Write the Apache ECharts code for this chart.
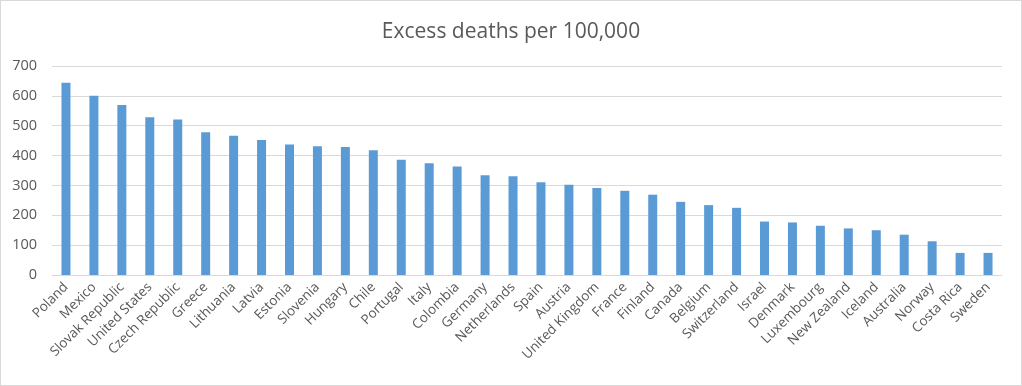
<!DOCTYPE html>
<html>
<head>
<meta charset="utf-8">
<script src="https://cdn.jsdelivr.net/npm/echarts@6/dist/echarts.min.js"></script>
<style>
html,body{margin:0;padding:0;background:#fff;}
#frame{width:1022px;height:386px;box-sizing:border-box;border:1px solid #d9d9d9;}
#chart{width:1020px;height:384px;}
</style>
</head>
<body>
<div id="frame"><div id="chart"></div></div>
<script>
const categories = ["Poland","Mexico","Slovak Republic","United States","Czech Republic","Greece","Lithuania","Latvia","Estonia","Slovenia","Hungary","Chile","Portugal","Italy","Colombia","Germany","Netherlands","Spain","Austria","United Kingdom","France","Finland","Canada","Belgium","Switzerland","Israel","Denmark","Luxembourg","New Zealand","Iceland","Australia","Norway","Costa Rica","Sweden"];
const excessDeaths = [644,600,569,528,521,478,466,452,437,431,429,418,386,374,363,334,331,311,302,291,282,269,245,234,225,179,176,165,156,150,135,113,74,74];
const yTicks = [0,100,200,300,400,500,600,700];

const chart = echarts.init(document.getElementById('chart'));
chart.setOption({
  animation:false,
  title:{text:'Excess deaths per 100,000',left:'center',top:16,
    textStyle:{fontFamily:'Open Sans',fontSize:21,fontWeight:'normal',color:'#595959'}},
  grid:{left:51,right:19,top:65,bottom:110},
  xAxis:{type:'category',data:categories,
    axisLine:{lineStyle:{color:'#d9d9d9'}},axisTick:{show:false},
    axisLabel:{rotate:45,interval:0,margin:10,fontFamily:'Open Sans',fontSize:13.5,color:'#595959'}},
  yAxis:{type:'value',min:yTicks[0],max:yTicks[yTicks.length-1],interval:100,
    axisLine:{show:false},axisTick:{show:false},
    splitLine:{lineStyle:{color:'#d9d9d9'}},
    axisLabel:{margin:15,fontFamily:'Open Sans',fontSize:14.5,color:'#595959'}},
  series:[{type:'bar',data:excessDeaths,barWidth:9,
    itemStyle:{color:'#5b9bd5'}}]
});
</script>
</body>
</html>
